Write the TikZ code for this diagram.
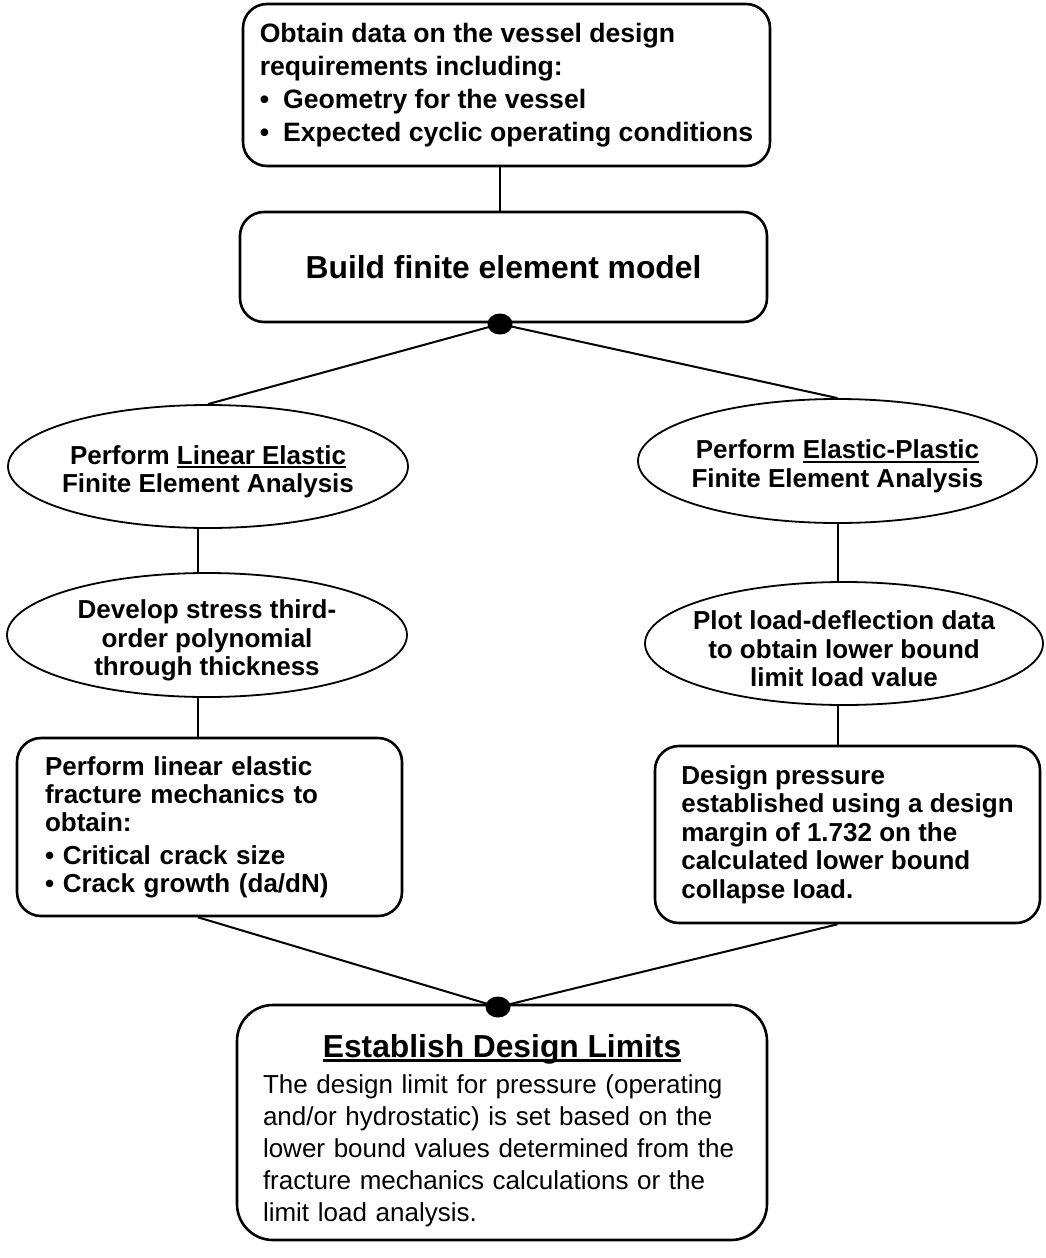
\documentclass[tikz,border=0pt]{standalone}
\usepackage{fontspec}
\setmainfont{Liberation Sans}
\usetikzlibrary{shapes.geometric}

\newsavebox\undlbox
\newcommand{\undl}[1]{\sbox\undlbox{#1}\rlap{\rule[-0.15em]{\wd\undlbox}{0.08em}}\usebox\undlbox}
\newcommand{\itm}{\makebox[0.88em][l]{\textbullet}}

\tikzstyle{roundbox} = [rectangle, rounded corners=12pt, draw=black, line width=1.3pt, align=left, inner sep=0pt, font=\bfseries\fontsize{13pt}{14pt}\selectfont]
\tikzstyle{oval} = [ellipse, draw=black, line width=0.9pt, inner sep=0pt]
\tikzstyle{ovaltext} = [align=center, inner sep=0pt, yshift=-2.7pt, font=\bfseries\fontsize{13pt}{14.3pt}\selectfont]
\tikzstyle{joint} = [ellipse, fill=black, inner sep=0pt, minimum width=12.5pt, minimum height=10.5pt]
\tikzstyle{link} = [line width=1pt]

\begin{document}
\begin{tikzpicture}[x=0.5pt, y=-0.5pt]
\useasboundingbox (0,0) rectangle (1045,1258);

% Boxes
\node (obtain) [roundbox, minimum width=263.5pt, minimum height=81pt, font=\bfseries\fontsize{13.3pt}{16.5pt}\selectfont] at (506.5,85) {Obtain data on the vessel design\\requirements including:\\\itm Geometry for the vessel\\\itm Expected cyclic operating conditions};
\node (build) [roundbox, minimum width=263.5pt, minimum height=55pt, font=\bfseries\fontsize{15.9pt}{18pt}\selectfont] at (503.5,267) {Build finite element model};
\node (lefm) [roundbox, minimum width=192.5pt, minimum height=89pt, text width=164.5pt, inner xsep=14pt] at (209.5,827) {Perform linear elastic\\fracture mechanics to\\obtain:\\[2.5pt]\textbullet\ Critical crack size\\\textbullet\ Crack growth (da/dN)};
\node (margin) [roundbox, minimum width=192.5pt, minimum height=88.5pt, font=\bfseries\fontsize{13pt}{14.2pt}\selectfont] at (847.5,834.5) {Design pressure\\established using a design\\margin of 1.732 on the\\calculated lower bound\\collapse load.};
\node (limits) [roundbox, rounded corners=18pt, minimum width=265pt, minimum height=117.5pt, text width=239pt, inner xsep=13pt, font=\fontsize{13pt}{16pt}\selectfont] at (502,1122.5) {\makebox[\hsize]{\rule{0pt}{19.25pt}\bfseries\fontsize{15.9pt}{16pt}\selectfont\undl{Establish Design Limits}}\\[2pt]The design limit for pressure (operating\\and/or hydrostatic) is set based on the\\lower bound values determined from the\\fracture mechanics calculations or the\\limit load analysis.};

% Ovals
\node (lefea) [oval, minimum width=200pt, minimum height=61.5pt] at (208,466.5) {};
\node (lefeatxt) [ovaltext] at (lefea) {Perform \undl{Linear Elastic}\\Finite Element Analysis};
\node (epfea) [oval, minimum width=199.5pt, minimum height=62pt] at (837.5,461) {};
\node (epfeatxt) [ovaltext] at (epfea) {Perform \undl{Elastic-Plastic}\\Finite Element Analysis};
\node (stress) [oval, minimum width=200pt, minimum height=62pt] at (207,635) {};
\node (stresstxt) [ovaltext] at (stress) {Develop stress third-\\order polynomial\\through thickness};
\node (plot) [oval, minimum width=199pt, minimum height=61.5pt] at (844,643.5) {};
\node (plottxt) [ovaltext] at (plot) {Plot load-deflection data\\to obtain lower bound\\limit load value};

% Joints
\node (topdot) [joint] at (500,324) {};
\node (botdot) [joint] at (498,1007) {};
\coordinate (leftcol) at (198,0);
\coordinate (rightcol) at (837.5,0);

% Lines
\draw [link] (obtain.south -| topdot) -- (build.north -| topdot);
\draw [link] (topdot.center) -- (lefea.north);
\draw [link] (topdot.center) -- (epfea.north);
\draw [link] (lefea.south -| leftcol) -- (stress.north -| leftcol);
\draw [link] (stress.south -| leftcol) -- (lefm.north -| leftcol);
\draw [link] (epfea.south -| rightcol) -- (plot.north -| rightcol);
\draw [link] (plot.south -| rightcol) -- (margin.north -| rightcol);
\draw [link] (lefm.south -| leftcol) -- (botdot.center);
\draw [link] (margin.south -| rightcol) -- (botdot.center);

\end{tikzpicture}
\end{document}
